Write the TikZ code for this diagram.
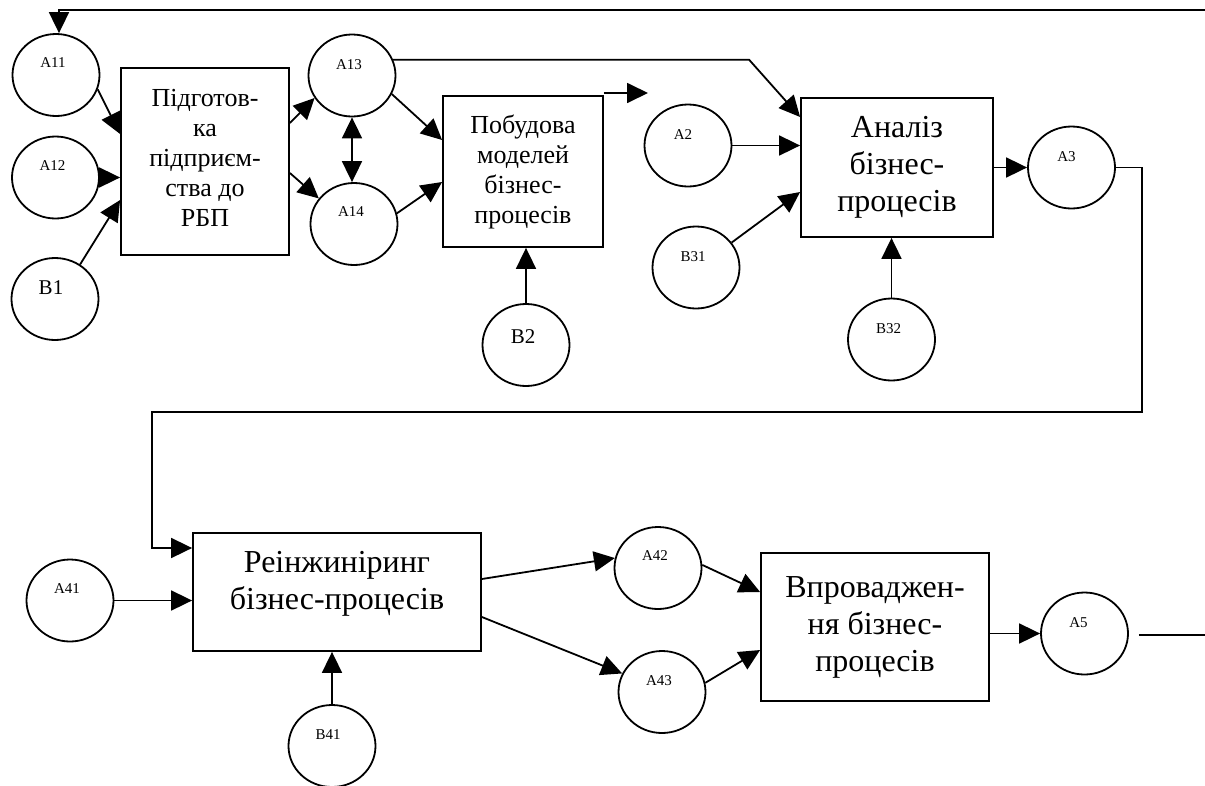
\documentclass[tikz,border=0pt]{standalone}
\usepackage{fontspec}
\setmainfont{Liberation Serif}
\usetikzlibrary{arrows.meta,shapes.geometric,calc}
\begin{document}
\begin{tikzpicture}[x=1pt,y=-1pt,
  ln/.style={line width=1.8pt},
  arr/.style={ln,-{Triangle[length=21pt,width=20pt]}},
  darr/.style={ln,{Triangle[length=21pt,width=20pt]}-{Triangle[length=21pt,width=20pt]}},
  circ/.style={draw,ellipse,line width=1.8pt,minimum width=87pt,minimum height=82pt,inner sep=0pt},
  lbl/.style={font=\fontsize{15}{17}\selectfont,inner sep=0pt},
  lblb/.style={font=\fontsize{21}{24}\selectfont,inner sep=0pt},
  procbox/.style={draw,rectangle,line width=1.8pt,inner sep=0pt,align=center},
  fsm/.style={font=\fontsize{26}{30}\selectfont},
  flg/.style={font=\fontsize{32}{37}\selectfont}]
\useasboundingbox (0,0) rectangle (1205,785);

% process boxes
\node[procbox,minimum width=168pt,minimum height=187pt] (p1) at (205,161.5) {};
\node[fsm,align=center,inner sep=0pt] (p1t) at ([yshift=4pt]p1.center) {Підготов-\\ка\\підприєм-\\ства до\\РБП};
\node[procbox,fsm,minimum width=160pt,minimum height=151pt] (p2) at (523,171.5) {Побудова\\моделей\\бізнес-\\процесів};
\node[procbox,flg,minimum width=192pt,minimum height=139pt] (p3) at (897,167.5) {Аналіз\\бізнес-\\процесів};
\node[procbox,minimum width=288pt,minimum height=118pt] (p4) at (337,592) {};
\node[flg,align=center,inner sep=0pt] (p4t) at ([yshift=8pt]p4.center) {Реінжиніринг\\бізнес-процесів};
\node[procbox,flg,minimum width=228pt,minimum height=148pt] (p5) at (875,627) {Впроваджен-\\ня бізнес-\\процесів};

% circles
\node[circ] (A11) at (56,75) {};
\node[circ] (A12) at (55.5,177.5) {};
\node[circ] (B1) at (55,299) {};
\node[circ] (A13) at (352,75.5) {};
\node[circ] (A14) at (354,224) {};
\node[circ] (A2) at (688,145.5) {};
\node[circ] (B31) at (696,267.5) {};
\node[circ] (B2) at (526,345) {};
\node[circ] (B32) at (891.5,339.5) {};
\node[circ] (A3) at (1071.5,167.5) {};
\node[circ] (A41) at (70,600.5) {};
\node[circ] (B41) at (332,746) {};
\node[circ] (A42) at (658,568) {};
\node[circ] (A43) at (662,692) {};
\node[circ] (A5) at (1084.5,633.5) {};

% circle labels
\node[lbl] (A11l) at ([xshift=-3pt,yshift=12pt]A11.center) {A11};
\node[lbl] (A12l) at ([xshift=-3pt,yshift=12pt]A12.center) {A12};
\node[lblb] (B1l) at ([xshift=-4pt,yshift=11pt]B1.center) {B1};
\node[lbl] (A13l) at ([xshift=-3pt,yshift=11pt]A13.center) {A13};
\node[lbl] (A14l) at ([xshift=-3pt,yshift=12pt]A14.center) {A14};
\node[lbl] (A2l) at ([xshift=-5pt,yshift=11pt]A2.center) {A2};
\node[lbl] (B31l) at ([xshift=-3pt,yshift=11pt]B31.center) {B31};
\node[lblb] (B2l) at ([xshift=-3pt,yshift=8pt]B2.center) {B2};
\node[lbl] (B32l) at ([xshift=-3pt,yshift=11pt]B32.center) {B32};
\node[lbl] (A3l) at ([xshift=-5pt,yshift=11pt]A3.center) {A3};
\node[lbl] (A41l) at ([xshift=-3pt,yshift=12pt]A41.center) {A41};
\node[lbl] (B41l) at ([xshift=-4pt,yshift=11pt]B41.center) {B41};
\node[lbl] (A42l) at ([xshift=-3pt,yshift=12pt]A42.center) {A42};
\node[lbl] (A43l) at ([xshift=-3pt,yshift=11pt]A43.center) {A43};
\node[lbl] (A5l) at ([xshift=-6pt,yshift=11pt]A5.center) {A5};

% free-end coordinates
\coordinate (t1) at (1205,10);
\coordinate (d2) at (648,93);
\coordinate (r1) at (1142,412);
\coordinate (r2) at (152,412);
\coordinate (e5) at (1205,635);

% connectors, top row
\draw[arr] (t1) -| ([xshift=3pt]A11.north);
\draw[arr] (A11.-19) -- (p1.west |- 0,134);
\draw[arr] (A12.east) -- (p1.west |- A12.east);
\draw[arr] (B1.54) -- (p1.west |- 0,200);
\draw[arr] (p1.east |- 0,123) -- (A13.211);
\draw[arr] (p1.east |- 0,173) -- (A14.144);
\draw[darr] (A13.south) -- (A13.south |- A14.north);
\draw[arr] (A13.-25) -- (p2.west |- 0,140);
\draw[arr] (A14.14) -- (p2.west |- 0,182);
\draw[arr] (A13.21) -- ([xshift=-51pt]p3.west |- A13.21) -- (p3.west |- 0,117);
\draw[arr] (p2.north east |- d2) -- (d2);
\draw[arr] (B2.north) -- (B2.north |- p2.south);
\draw[arr] (A2.east) -- (p3.west |- A2.east);
\draw[arr] (B31.35) -- (p3.west |- 0,192);
\draw[arr] (B32.north) -- (B32.north |- p3.south);
\draw[arr] (p3.east |- A3.west) -- (A3.west);

% loop to second row
\draw[arr] (A3.east) -| (r1) -- (r2) |- (p4.west |- 0,548);

% bottom row
\draw[arr] (A41.east) -- (p4.west |- A41.east);
\draw[arr] (B41.north) -- (B41.north |- p4.south);
\draw[arr] (p4.east |- 0,579) -- (A42.167);
\draw[arr] (p4.east |- 0,617) -- (A43.155);
\draw[arr] (A42.4) -- (p5.west |- 0,592);
\draw[arr] (A43.12) -- (p5.west |- 0,650);
\draw[arr] (p5.east |- A5.west) -- (A5.west);
\draw[line width=2.4pt] ([xshift=10pt]A5.east |- e5) -- (e5);
\end{tikzpicture}
\end{document}
